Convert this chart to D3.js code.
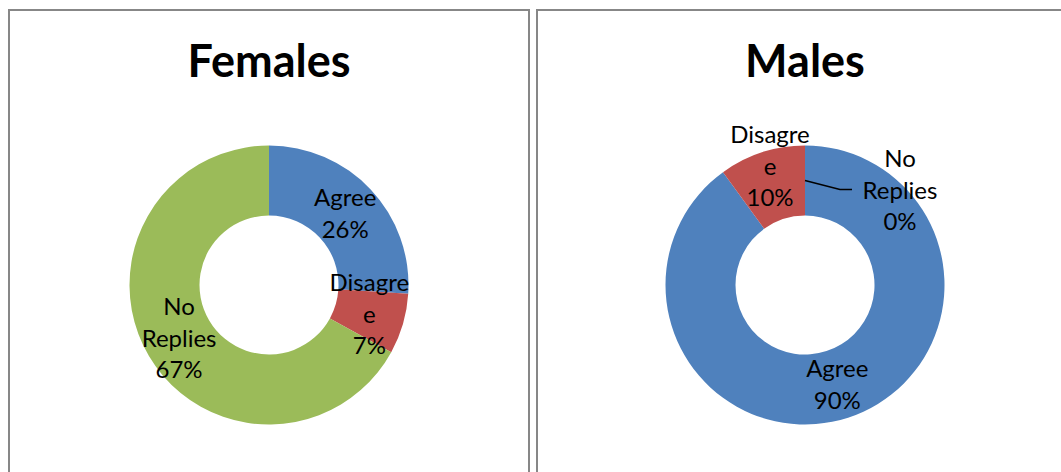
<!DOCTYPE html>
<html>
<head>
<meta charset="utf-8">
<script src="https://cdn.jsdelivr.net/npm/d3@7"></script>
<style>
  html, body { margin: 0; padding: 0; background: #fff; }
  svg { display: block; }
  text { font-family: Lato, "Open Sans", sans-serif; fill: #000; }
</style>
</head>
<body>
<svg id="chart" width="1061" height="472"></svg>
<script>
// Survey replies by gender, shown as two doughnut charts
const categories = ["Agree", "Disagree", "No Replies"];
const femaleShares = [26, 7, 67];
const maleShares = [90, 10, 0];
const chartTitles = ["Females", "Males"];
const sliceColors = ["#4F81BD", "#C0504D", "#9BBB59"];
// How each category name wraps inside its data label
const labelLines = [["Agree"], ["Disagre", "e"], ["No", "Replies"]];

const svg = d3.select("#chart");

const panels = [
  { title: chartTitles[0], values: femaleShares, x0: 9, x1: 529, cx: 269,
    labelShift: {} },
  { title: chartTitles[1], values: maleShares, x0: 537, x1: 1070, cx: 805,
    // labels moved outside the thin slices, the empty one with a leader line
    labelShift: { 1: [-35, -119], 2: [95, -95] }, leader: 2 }
];

const cy = 285, outerR = 139.5, innerR = 69.5, midR = (outerR + innerR) / 2;
const lineGap = 31.5;

const pie = d3.pie().sort(null).value(d => d.value);
const arc = d3.arc().innerRadius(innerR).outerRadius(outerR);
const midArc = d3.arc().innerRadius(midR).outerRadius(midR);

panels.forEach(p => {
  // chart area border
  svg.append("path")
    .attr("d", `M${p.x0},480 V10 H${p.x1} V480`)
    .attr("fill", "none")
    .attr("stroke", "#878787")
    .attr("stroke-width", 2);

  svg.append("text")
    .attr("x", p.cx).attr("y", 77)
    .attr("text-anchor", "middle")
    .style("font-size", "45px")
    .style("font-weight", "bold")
    .text(p.title);

  const data = categories.map((c, i) => ({ name: c, value: p.values[i], idx: i }));
  const arcs = pie(data);
  const g = svg.append("g").attr("transform", `translate(${p.cx},${cy})`);

  g.selectAll("path.slice")
    .data(arcs.filter(a => a.data.value > 0))
    .join("path")
    .attr("class", "slice")
    .attr("d", arc)
    .attr("fill", a => sliceColors[a.data.idx]);

  arcs.forEach(a => {
    const c = midArc.centroid(a);
    const shift = p.labelShift[a.data.idx];
    const pos = shift ? shift : c;
    const lines = labelLines[a.data.idx].concat([a.data.value + "%"]);

    if (p.leader === a.data.idx) {
      g.append("polyline")
        .attr("points", [c, [c[0] + 35, c[1] + 9], [c[0] + 47, c[1] + 9]].map(q => q.join(",")).join(" "))
        .attr("fill", "none")
        .attr("stroke", "#000")
        .attr("stroke-width", 1.5);
    }

    const t = g.append("text")
      .attr("text-anchor", "middle")
      .style("font-size", "24px");
    lines.forEach((s, k) => {
      t.append("tspan")
        .attr("x", pos[0])
        .attr("y", pos[1] + (k - (lines.length - 1) / 2) * lineGap)
        .attr("dy", "0.36em")
        .text(s);
    });
  });
});
</script>
</body>
</html>
